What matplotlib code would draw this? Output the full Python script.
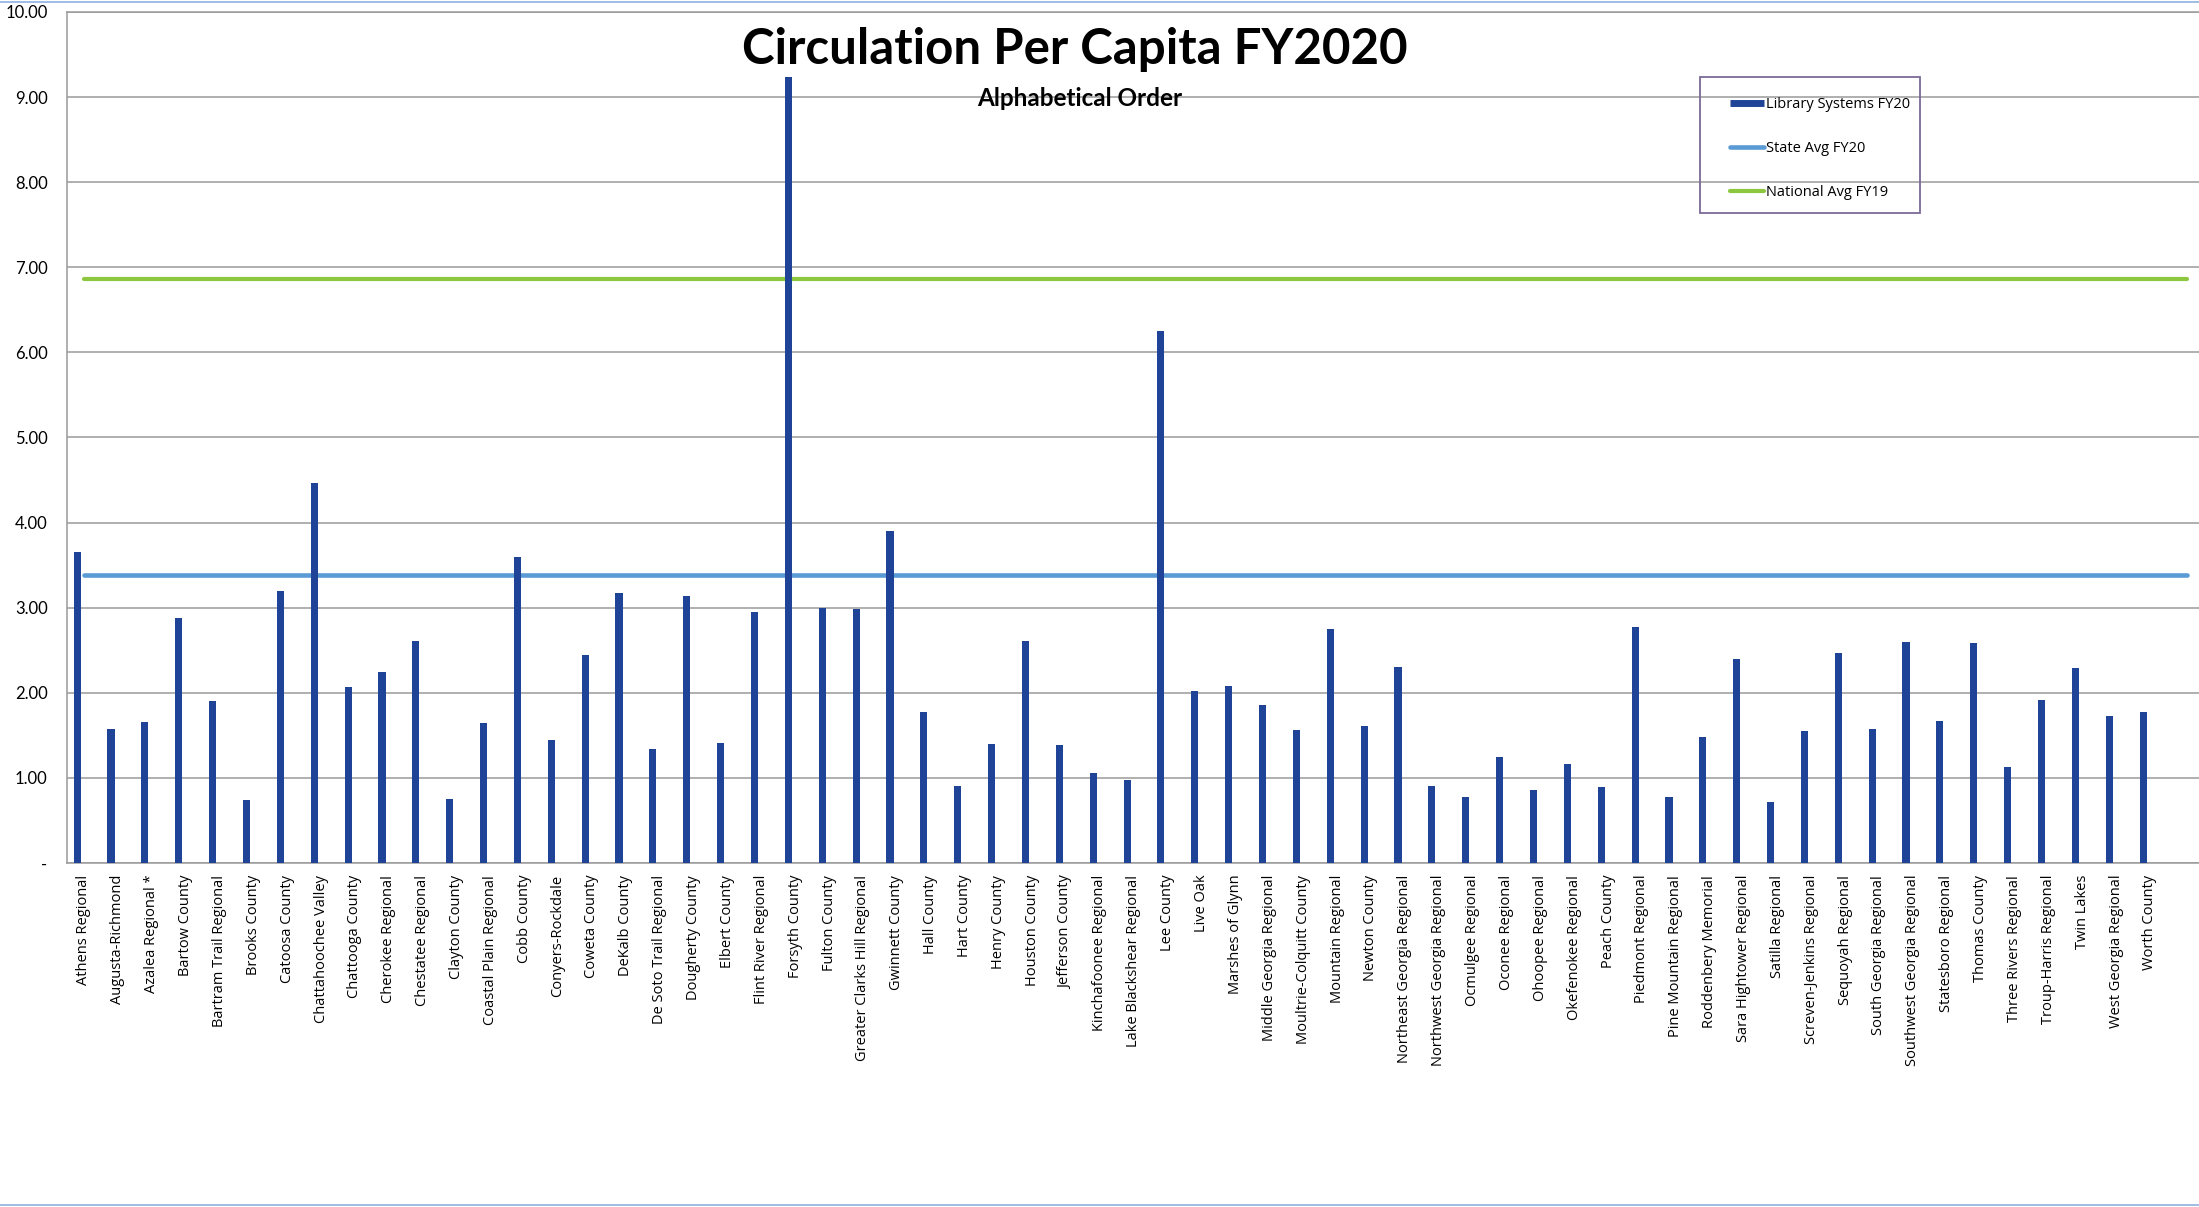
import matplotlib.pyplot as plt
import numpy as np
from matplotlib.lines import Line2D
from matplotlib.patches import Rectangle

# library systems, alphabetical
libraries = [
    "Athens Regional", "Augusta-Richmond", "Azalea Regional *", "Bartow County",
    "Bartram Trail Regional", "Brooks County", "Catoosa County", "Chattahoochee Valley",
    "Chattooga County", "Cherokee Regional", "Chestatee Regional", "Clayton County",
    "Coastal Plain Regional", "Cobb County", "Conyers-Rockdale", "Coweta County",
    "DeKalb County", "De Soto Trail Regional", "Dougherty County", "Elbert County",
    "Flint River Regional", "Forsyth County", "Fulton County", "Greater Clarks Hill Regional",
    "Gwinnett County", "Hall County", "Hart County", "Henry County",
    "Houston County", "Jefferson County", "Kinchafoonee Regional", "Lake Blackshear Regional",
    "Lee County", "Live Oak", "Marshes of Glynn", "Middle Georgia Regional",
    "Moultrie-Colquitt County", "Mountain Regional", "Newton County", "Northeast Georgia Regional",
    "Northwest Georgia Regional", "Ocmulgee Regional", "Oconee Regional", "Ohoopee Regional",
    "Okefenokee Regional", "Peach County", "Piedmont Regional", "Pine Mountain Regional",
    "Roddenbery Memorial", "Sara Hightower Regional", "Satilla Regional", "Screven-Jenkins Regional",
    "Sequoyah Regional", "South Georgia Regional", "Southwest Georgia Regional", "Statesboro Regional",
    "Thomas County", "Three Rivers Regional", "Troup-Harris Regional", "Twin Lakes",
    "West Georgia Regional", "Worth County",
]

circulation = [
    3.65, 1.57, 1.66, 2.88,
    1.90, 0.74, 3.20, 4.47,
    2.07, 2.24, 2.61, 0.75,
    1.64, 3.60, 1.44, 2.45,
    3.17, 1.34, 3.14, 1.41,
    2.95, 9.24, 3.00, 2.98,
    3.90, 1.77, 0.90, 1.40,
    2.61, 1.39, 1.06, 0.97,
    6.25, 2.02, 2.08, 1.86,
    1.56, 2.75, 1.61, 2.30,
    0.90, 0.78, 1.24, 0.86,
    1.16, 0.89, 2.77, 0.77,
    1.48, 2.40, 0.72, 1.55,
    2.47, 1.57, 2.60, 1.67,
    2.59, 1.13, 1.91, 2.29,
    1.73, 1.78,
]

state_avg = 3.38
national_avg = 6.86

y_ticks = [0, 1, 2, 3, 4, 5, 6, 7, 8, 9, 10]
y_labels = ["-", "1.00", "2.00", "3.00", "4.00", "5.00", "6.00", "7.00", "8.00", "9.00", "10.00"]

legend_labels = ["Library Systems FY20", "State Avg FY20", "National Avg FY19"]

bar_color = "#1F4396"
state_color = "#5B9BD5"
national_color = "#8DC63F"
grid_color = "#9A9A9A"

W, H = 2199, 1207
fig = plt.figure(figsize=(W / 100, H / 100), dpi=100)
ax = fig.add_axes([67 / W, (H - 863) / H, (W - 67) / W, (863 - 12) / H])

x = np.arange(len(libraries))
ax.bar(x - 0.2, circulation, width=0.21, color=bar_color, zorder=3)
ax.plot([x[0], x[-1] + 1.1], [state_avg, state_avg], color=state_color, lw=3.3,
        solid_capstyle="round", zorder=2)
ax.plot([x[0], x[-1] + 1.1], [national_avg, national_avg], color=national_color, lw=3.0,
        solid_capstyle="round", zorder=2)

ax.set_xlim(-0.5, 62.45)
ax.set_ylim(0, 10)
ax.set_yticks(y_ticks, y_labels, fontsize=12, family=["Lato", "DejaVu Sans"])
ax.tick_params(axis="y", length=0, pad=14)
ax.set_xticks(x, libraries, rotation=90, fontsize=10.5, family=["Open Sans", "DejaVu Sans"])
ax.tick_params(axis="x", length=0, pad=8.5)

ax.grid(axis="y", color=grid_color, lw=1.1, zorder=0)
ax.set_axisbelow(True)
for side in ["left", "bottom", "top"]:
    ax.spines[side].set_color(grid_color)
    ax.spines[side].set_linewidth(1.1)
ax.spines["right"].set_visible(False)

fig.text(1075 / W, 1 - 49 / H, "Circulation Per Capita FY2020", ha="center", va="center",
         fontsize=35.5, fontweight="bold", family=["Lato", "DejaVu Sans"])
fig.text(1080 / W, 1 - 99 / H, "Alphabetical Order", ha="center", va="center",
         fontsize=17.5, fontweight="bold", family=["Lato", "DejaVu Sans"])

# legend: entries without frame, box drawn separately (wider padding like the original)
handles = [
    Line2D([], [], color=bar_color, lw=5, solid_capstyle="butt"),
    Line2D([], [], color=state_color, lw=3.3, solid_capstyle="round"),
    Line2D([], [], color=national_color, lw=3.0, solid_capstyle="round"),
]
fig.legend(handles, legend_labels, loc="upper left", bbox_to_anchor=(1730 / W, 1 - 97 / H),
           frameon=False, prop={"family": ["Open Sans", "DejaVu Sans"], "size": 10.5},
           labelspacing=2.0, handlelength=2.3, handletextpad=0.2, borderpad=0,
           borderaxespad=0)
fig.add_artist(Rectangle((1700 / W, 1 - 213 / H), 220 / W, 136 / H, transform=fig.transFigure,
                         fill=False, edgecolor="#7B6A99", lw=1.3))

# thin border lines at top and bottom of the image
fig.add_artist(Line2D([0, 1], [1 - 2 / H, 1 - 2 / H], color="#8FB0DE", lw=1.2))
fig.add_artist(Line2D([0, 1], [2 / H, 2 / H], color="#8FB0DE", lw=1.2))

fig.savefig("out.png", dpi=100)
